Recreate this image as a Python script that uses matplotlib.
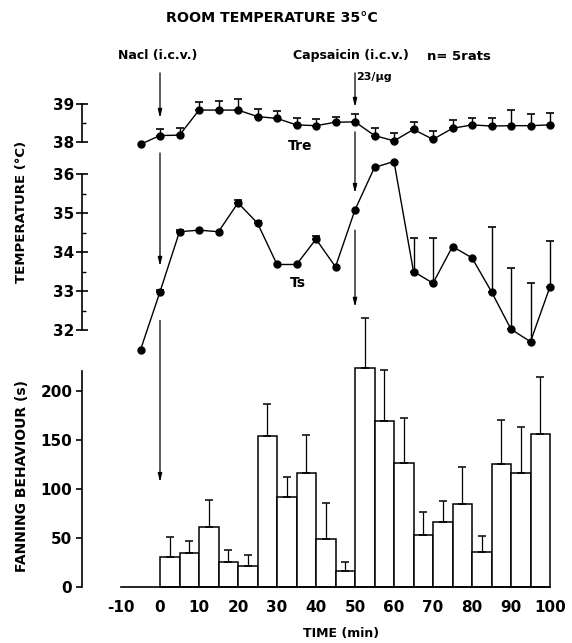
import numpy as np
import matplotlib.pyplot as plt

plt.rcParams['font.family'] = 'DejaVu Sans'
plt.rcParams['font.weight'] = 'bold'
plt.rcParams['axes.unicode_minus'] = False

# time points (min) for temperatures
temp_time = [-5, 0, 5, 10, 15, 20, 25, 30, 35, 40, 45, 50, 55, 60, 65, 70, 75, 80, 85, 90, 95, 100]
# rectal temperature Tre and upper SEM
tre = [37.94, 38.17, 38.18, 38.84, 38.84, 38.84, 38.67, 38.62, 38.45, 38.43, 38.52,
       38.53, 38.17, 38.03, 38.33, 38.07, 38.36, 38.45, 38.42, 38.43, 38.43, 38.45]
tre_err = [0, 0.17, 0.20, 0.20, 0.25, 0.29, 0.19, 0.20, 0.17, 0.17, 0.15,
           0.20, 0.21, 0.22, 0.20, 0.22, 0.22, 0.19, 0.20, 0.41, 0.32, 0.32]
# skin temperature Ts and upper SEM
ts = [31.49, 32.98, 34.52, 34.56, 34.52, 35.26, 34.74, 33.68, 33.68, 34.33, 33.62,
      35.08, 36.17, 36.32, 33.50, 33.20, 34.14, 33.85, 32.98, 32.02, 31.70, 33.11]
ts_err = [0, 0.05, 0.05, 0, 0, 0.08, 0.06, 0, 0, 0.08, 0,
          0, 0, 0, 0.85, 1.15, 0, 0, 1.67, 1.56, 1.51, 1.18]

# fanning behaviour, 5 min bins starting at these times
bin_start = [0, 5, 10, 15, 20, 25, 30, 35, 40, 45, 50, 55, 60, 65, 70, 75, 80, 85, 90, 95]
fanning = [31, 35, 61, 26, 21, 154, 92, 116, 49, 16, 223, 169, 127, 53, 66, 85, 36, 126, 116, 156]
fanning_err = [20, 12, 28, 12, 12, 33, 20, 39, 37, 10, 52, 52, 45, 24, 22, 37, 16, 44, 47, 58]

x_ticks = [-10, 0, 10, 20, 30, 40, 50, 60, 70, 80, 90, 100]

W, H = 572, 643
T0_PX, PX_PER_MIN = 160, 3.9
XLIM = (-20, 102)


def fx(px):
    return px / W


def fy(py):
    return 1 - py / H


def add_axes(fig, ylim, px_ref, val_ref, px_per_unit):
    left = T0_PX + XLIM[0] * PX_PER_MIN
    right = T0_PX + XLIM[1] * PX_PER_MIN
    top = px_ref - (ylim[1] - val_ref) * px_per_unit
    bottom = px_ref - (ylim[0] - val_ref) * px_per_unit
    ax = fig.add_axes([fx(left), fy(bottom), (right - left) / W, (bottom - top) / H])
    ax.set_xlim(XLIM)
    ax.set_ylim(ylim)
    ax.patch.set_alpha(0)
    for s in ['top', 'right']:
        ax.spines[s].set_visible(False)
    ax.spines['left'].set_linewidth(1.2)
    return ax


def temp_style(ax, lo, hi, minors):
    ax.spines['bottom'].set_visible(False)
    ax.set_xticks([])
    ax.spines['left'].set_bounds(lo, hi)
    ax.set_yticks(range(lo, hi + 1))
    ax.set_yticks(minors, minor=True)
    ax.tick_params(axis='y', which='major', direction='inout', length=9, width=1.2,
                   labelsize=11, pad=1)
    ax.tick_params(axis='y', which='minor', direction='in', length=3, width=1)


arrow_kw = dict(arrowstyle='-|>,head_length=0.5,head_width=0.12', color='k', lw=0.9,
                shrinkA=0, shrinkB=0)


def arrow(ax, x, tail, head):
    ax.annotate('', xy=(x, head), xytext=(x, tail), arrowprops=arrow_kw,
                annotation_clip=False)


fig = plt.figure(figsize=(W / 100, H / 100), dpi=100)

# ---- Tre ----
ax_tre = add_axes(fig, (37.5, 39.6), 142, 38, 38)
temp_style(ax_tre, 38, 39, [38.5])
ax_tre.plot(temp_time, tre, '-o', color='k', lw=1, ms=5)
tt = np.array(temp_time)
e = np.array(tre_err)
m = e > 0
ax_tre.errorbar(tt[m], np.array(tre)[m], yerr=[np.zeros(m.sum()), e[m]], fmt='none',
                ecolor='k', elinewidth=1, capsize=3, capthick=1.2)

# ---- Ts ----
ax_ts = add_axes(fig, (31.3, 36.6), 330, 32, 39)
temp_style(ax_ts, 32, 36, [32.5, 33.5, 34.5, 35.5])
ax_ts.plot(temp_time, ts, '-o', color='k', lw=1, ms=5)
e = np.array(ts_err)
m = e > 0
ax_ts.errorbar(tt[m], np.array(ts)[m], yerr=[np.zeros(m.sum()), e[m]], fmt='none',
               ecolor='k', elinewidth=1, capsize=3, capthick=1.2)

# ---- fanning ----
ax_fan = add_axes(fig, (-3, 290), 587, 0, 0.98)
ax_fan.bar(bin_start, fanning, width=5, align='edge', color='white', edgecolor='k', lw=1.1)
ax_fan.errorbar(np.array(bin_start) + 2.5, fanning, yerr=[np.zeros(len(fanning)), fanning_err],
                fmt='none', ecolor='k', elinewidth=0.9, capsize=3, capthick=1.1)
ax_fan.spines['left'].set_bounds(0, 220)
ax_fan.spines['bottom'].set_position(('data', 0))
ax_fan.spines['bottom'].set_bounds(-10, 100)
ax_fan.spines['bottom'].set_linewidth(1.2)
ax_fan.set_yticks([0, 50, 100, 150, 200])
ax_fan.set_xticks(x_ticks)
ax_fan.tick_params(axis='y', direction='out', length=4, width=1.2, labelsize=11, pad=3)
ax_fan.tick_params(axis='x', length=0, labelsize=11, pad=9)

# ---- injection arrows ----
arrow(ax_tre, 0, 39.82, 38.63)
arrow(ax_ts, 0, 36.54, 33.64)
arrow(ax_fan, 0, 272, 107)
arrow(ax_tre, 50, 39.82, 38.92)
arrow(ax_ts, 50, 37.08, 35.51)
arrow(ax_ts, 50, 34.56, 32.59)

# ---- texts ----
fig.text(fx(272), fy(18), 'ROOM TEMPERATURE 35°C', ha='center', va='center', fontsize=10.2)
fig.text(fx(118), fy(56), 'Nacl (i.c.v.)', ha='left', va='center', fontsize=9)
fig.text(fx(293), fy(56), 'Capsaicin (i.c.v.)', ha='left', va='center', fontsize=9)
fig.text(fx(427), fy(56), 'n= 5rats', ha='left', va='center', fontsize=9.5)
fig.text(fx(356), fy(77), '23/μg', ha='left', va='center', fontsize=8)
fig.text(fx(300), fy(146), 'Tre', ha='center', va='center', fontsize=10)
fig.text(fx(298), fy(283), 'Ts', ha='center', va='center', fontsize=10)
fig.text(fx(22), fy(212), 'TEMPERATURE (°C)', rotation=90, ha='center', va='center', fontsize=9.5)
fig.text(fx(22), fy(476), 'FANNING BEHAVIOUR (s)', rotation=90, ha='center', va='center',
         fontsize=10)
fig.text(fx(341), fy(633), 'TIME (min)', ha='center', va='center', fontsize=9)

fig.savefig('out.png', dpi=100)
